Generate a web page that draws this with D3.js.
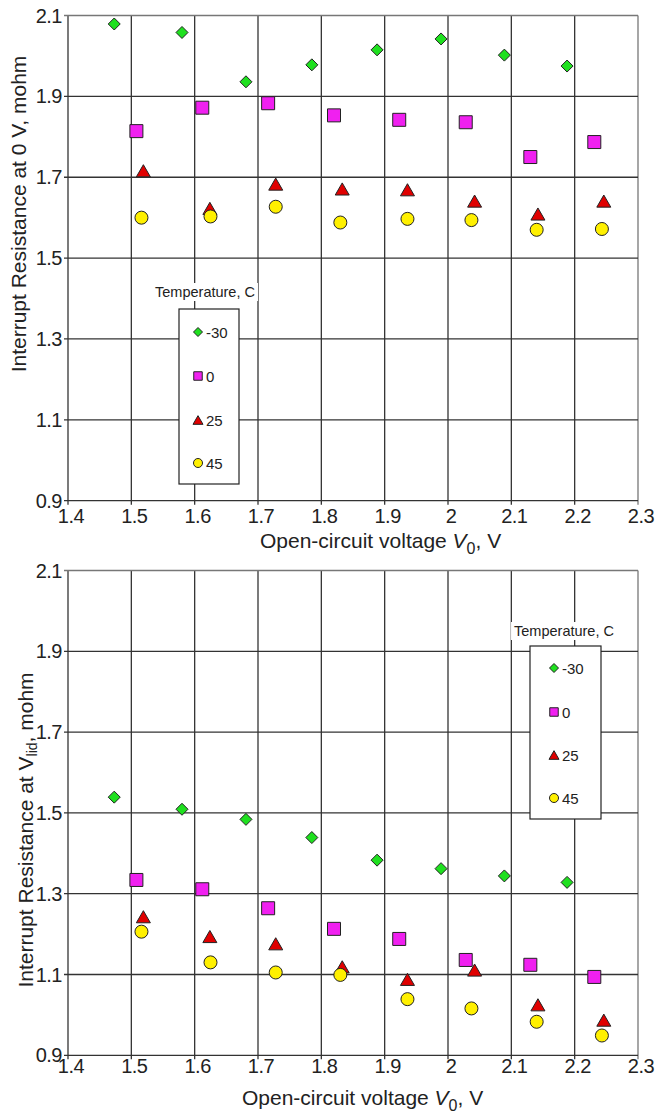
<!DOCTYPE html>
<html>
<head>
<meta charset="utf-8">
<script src="https://cdn.jsdelivr.net/npm/d3@7/dist/d3.min.js"></script>
<style>
  html, body { margin: 0; padding: 0; background: #fff; }
  svg { display: block; font-family: "Liberation Sans", Arial, Helvetica, sans-serif; }
</style>
</head>
<body>
<svg id="chart" width="655" height="1116"></svg>
<script>
// Axis ticks
const xTicks = [1.4, 1.5, 1.6, 1.7, 1.8, 1.9, 2.0, 2.1, 2.2, 2.3];
const yTicks = [0.9, 1.1, 1.3, 1.5, 1.7, 1.9, 2.1];
const xTickLabels = ["1.4", "1.5", "1.6", "1.7", "1.8", "1.9", "2", "2.1", "2.2", "2.3"];

// Temperatures (legend entries)
const temperatures = ["-30", "0", "25", "45"];

// Open-circuit voltage V0 of each measurement, per temperature
const voltM30 = [1.473, 1.580, 1.681, 1.785, 1.888, 1.989, 2.089, 2.188];
const volt0   = [1.508, 1.612, 1.716, 1.820, 1.923, 2.028, 2.130, 2.231];
const volt25  = [1.519, 1.624, 1.728, 1.833, 1.936, 2.042, 2.142, 2.246];
const volt45  = [1.516, 1.625, 1.728, 1.830, 1.936, 2.037, 2.140, 2.243];

// Interrupt resistance at 0 V (mohm)
const r0M30 = [2.079, 2.058, 1.936, 1.978, 2.015, 2.042, 2.002, 1.975];
const r0At0 = [1.814, 1.872, 1.883, 1.853, 1.842, 1.836, 1.750, 1.787];
const r0At25 = [1.716, 1.623, 1.683, 1.671, 1.669, 1.641, 1.609, 1.641];
const r0At45 = [1.600, 1.603, 1.627, 1.588, 1.597, 1.594, 1.570, 1.572];

// Interrupt resistance at V_lid (mohm)
const rLidM30 = [1.539, 1.509, 1.484, 1.439, 1.383, 1.362, 1.344, 1.328];
const rLidAt0 = [1.334, 1.311, 1.264, 1.213, 1.188, 1.136, 1.124, 1.094];
const rLidAt25 = [1.243, 1.194, 1.176, 1.119, 1.088, 1.111, 1.025, 0.987];
const rLidAt45 = [1.206, 1.130, 1.105, 1.099, 1.039, 1.016, 0.983, 0.949];

// Symbol shapes centred on their bounding box
const diamondShape = { draw(ctx, size) { const r = Math.sqrt(size) / 2;
  ctx.moveTo(0, -r); ctx.lineTo(r, 0); ctx.lineTo(0, r); ctx.lineTo(-r, 0); ctx.closePath(); } };
const triangleShape = { draw(ctx, size) { const w = Math.sqrt(size), h = w * 0.866;
  ctx.moveTo(0, -h / 2); ctx.lineTo(w / 2, h / 2); ctx.lineTo(-w / 2, h / 2); ctx.closePath(); } };

const styles = [
  { shape: diamondShape,     fill: "#1fe01f", size: 144, legendSize: 81 },
  { shape: d3.symbolSquare,  fill: "#f020f0", size: 169, legendSize: 72 },
  { shape: triangleShape,    fill: "#e00000", size: 196, legendSize: 100 },
  { shape: d3.symbolCircle,  fill: "#fff000", size: 133, legendSize: 64 }
];

const volts = [voltM30, volt0, volt25, volt45];

const panels = [
  { top: 15.5, bottom: 500.7, values: [r0M30, r0At0, r0At25, r0At45],
    tickBaseline: 523, titleX: 260, titleBaseline: 548,
    yTitleX: 26, yTitleCenter: 214, yTitle: ["Interrupt Resistance at 0 V, mohm"],
    legend: { titleX: 205, titleY: 297, box: [179, 309, 60, 175], mx: 198, my: [332, 376, 420, 463] } },
  { top: 570.5, bottom: 1055.3, values: [rLidM30, rLidAt0, rLidAt25, rLidAt45],
    tickBaseline: 1073, titleX: 242, titleBaseline: 1105,
    yTitleX: 33, yTitleCenter: 830, yTitle: ["Interrupt Resistance at V", "lid", ", mohm"],
    legend: { titleX: 564, titleY: 636, box: [530, 646, 71, 173], mx: 554, my: [668, 712, 755, 798] } }
];

const svg = d3.select("#chart");
const left = 68, right = 638;
const ink = "#222";

panels.forEach(p => {
  const x = d3.scaleLinear().domain([1.4, 2.3]).range([left, right]);
  const y = d3.scaleLinear().domain([0.9, 2.1]).range([p.bottom, p.top]);
  const g = svg.append("g");

  // grid
  g.selectAll(".vg").data(xTicks).join("line")
    .attr("x1", d => x(d)).attr("x2", d => x(d))
    .attr("y1", p.top).attr("y2", p.bottom + 4)
    .attr("stroke", (d, i) => i === xTicks.length - 1 ? "#777" : "#333")
    .attr("stroke-width", 1.3);
  g.selectAll(".hg").data(yTicks).join("line")
    .attr("x1", left - 4).attr("x2", right)
    .attr("y1", d => y(d)).attr("y2", d => y(d))
    .attr("stroke", (d, i) => i === yTicks.length - 1 ? "#777" : "#333")
    .attr("stroke-width", 1.3);

  // tick labels
  g.selectAll(".xl").data(xTicks).join("text")
    .attr("x", d => x(d) + 3).attr("y", p.tickBaseline)
    .attr("text-anchor", "middle").attr("font-size", 20).attr("fill", ink)
    .attr("letter-spacing", -0.5)
    .text((d, i) => xTickLabels[i]);
  g.selectAll(".yl").data(yTicks).join("text")
    .attr("x", left - 6).attr("y", d => y(d) + 7)
    .attr("text-anchor", "end").attr("font-size", 20).attr("fill", ink)
    .attr("letter-spacing", -0.5)
    .text(d => d.toFixed(1));

  // x title
  const xt = g.append("text").attr("x", p.titleX).attr("y", p.titleBaseline)
    .attr("font-size", 21).attr("fill", ink);
  xt.append("tspan").text("Open-circuit voltage ");
  xt.append("tspan").attr("font-style", "italic").text("V");
  xt.append("tspan").attr("font-size", 16).attr("dy", 6).text("0");
  xt.append("tspan").attr("dy", -6).text(", V");

  // y title
  const yt = g.append("text")
    .attr("transform", `translate(${p.yTitleX},${p.yTitleCenter}) rotate(-90)`)
    .attr("text-anchor", "middle").attr("font-size", 21).attr("fill", ink);
  yt.append("tspan").text(p.yTitle[0]);
  if (p.yTitle.length > 1) {
    yt.append("tspan").attr("font-size", 14).attr("dy", 4).text(p.yTitle[1]);
    yt.append("tspan").attr("dy", -4).text(p.yTitle[2]);
  }

  // markers
  styles.forEach((s, k) => {
    const pts = volts[k].map((v, i) => [v, p.values[k][i]]);
    g.selectAll(null).data(pts).join("path")
      .attr("transform", d => `translate(${x(d[0])},${y(d[1])})`)
      .attr("d", d3.symbol().type(s.shape).size(s.size)())
      .attr("fill", s.fill).attr("stroke", ink).attr("stroke-width", 1);
  });

  // legend
  const L = p.legend;
  const lt = g.append("text").attr("x", L.titleX).attr("y", L.titleY)
    .attr("text-anchor", "middle").attr("font-size", 14.5).attr("fill", ink)
    .text("Temperature, C");
  const bb = lt.node().getBBox();
  g.insert("rect", "text:last-of-type")
    .attr("x", bb.x - 3).attr("y", bb.y - 1).attr("width", bb.width + 6).attr("height", bb.height + 2)
    .attr("fill", "#fff");
  lt.raise();
  g.append("rect").attr("x", L.box[0]).attr("y", L.box[1])
    .attr("width", L.box[2]).attr("height", L.box[3])
    .attr("fill", "#fff").attr("stroke", ink).attr("stroke-width", 1.2);
  styles.forEach((s, k) => {
    g.append("path")
      .attr("transform", `translate(${L.mx},${L.my[k]})`)
      .attr("d", d3.symbol().type(s.shape).size(s.legendSize)())
      .attr("fill", s.fill).attr("stroke", ink).attr("stroke-width", 1);
    g.append("text").attr("x", L.mx + 8).attr("y", L.my[k] + 5.5)
      .attr("font-size", 15).attr("fill", ink).text(temperatures[k]);
  });
});
</script>
</body>
</html>
